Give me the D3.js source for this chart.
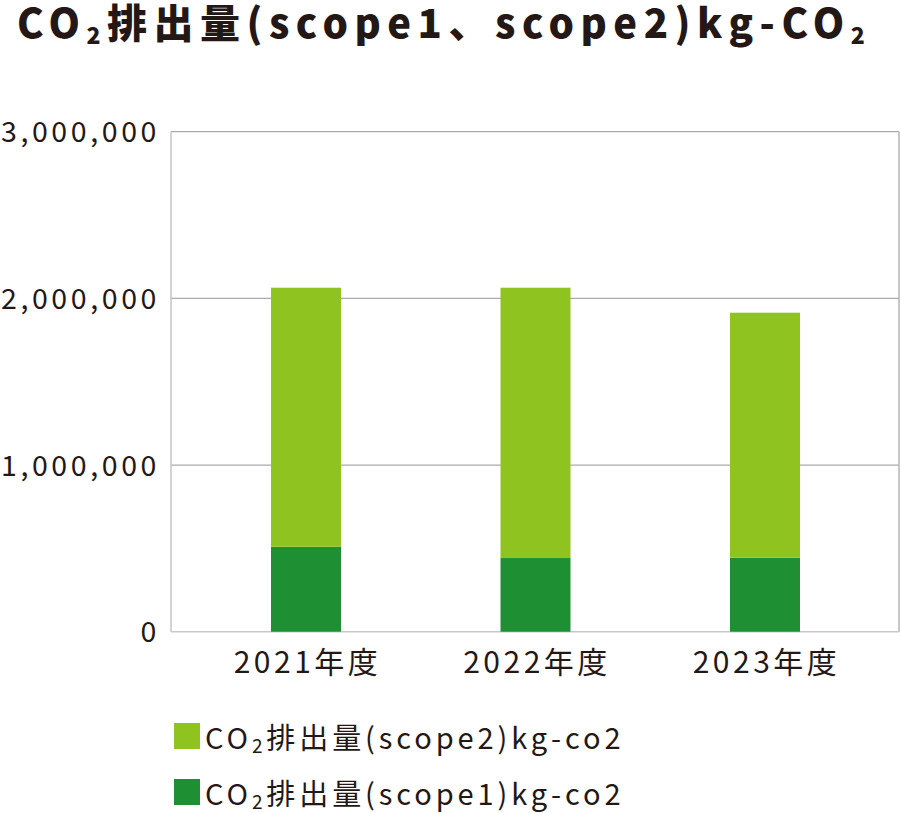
<!DOCTYPE html>
<html><head><meta charset="utf-8">
<script src="https://cdn.jsdelivr.net/npm/d3@7"></script>
<style>
body{margin:0;background:#fff;}
text{font-family:"Noto Sans CJK JP","Noto Sans",sans-serif;fill:#231815;}
</style></head>
<body>
<svg id="c" width="901" height="813"></svg>
<script>
const categories = ["2021年度","2022年度","2023年度"];
const scope1 = [510000, 442000, 444000];
const scope2 = [1554000, 1622000, 1470000];
const yTicks = [0, 1000000, 2000000, 3000000];
const seriesNames = ["CO₂排出量(scope2)kg-co2","CO₂排出量(scope1)kg-co2"];
const titleText = "CO₂排出量(scope1、scope2)kg-CO₂";
const colors = {scope2:"#8fc31f", scope1:"#1f8f33"};

const svg = d3.select("#c");
const pLeft=171, pRight=899, pTop=131.7, pBottom=631.7;

const y = d3.scaleLinear().domain([0,3000000]).range([pBottom, pTop]);
const x = d3.scalePoint().domain(categories).range([306, 765]);
const bw = 70;

// gridlines
svg.append("g").selectAll("line").data(yTicks.filter(d=>d>0)).join("line")
  .attr("x1",pLeft).attr("x2",pRight).attr("y1",d=>y(d)).attr("y2",d=>y(d))
  .attr("stroke","#aaaaaa").attr("stroke-width",1.2);
// frame
svg.append("line").attr("x1",pLeft).attr("x2",pLeft).attr("y1",pTop).attr("y2",pBottom).attr("stroke","#c4c4c4").attr("stroke-width",1.5);
svg.append("line").attr("x1",pRight).attr("x2",pRight).attr("y1",pTop).attr("y2",pBottom).attr("stroke","#b4b4b4").attr("stroke-width",1.5);
svg.append("line").attr("x1",pLeft).attr("x2",pRight).attr("y1",pBottom).attr("y2",pBottom).attr("stroke","#c8c8c8").attr("stroke-width",1.5);

// stack
const data = categories.map((c,i)=>({cat:c, scope1:scope1[i], scope2:scope2[i]}));
const stack = d3.stack().keys(["scope1","scope2"])(data);
svg.append("g").selectAll("g").data(stack).join("g").attr("fill",d=>colors[d.key])
  .selectAll("rect").data(d=>d).join("rect")
  .attr("x",d=>x(d.data.cat)-bw/2).attr("width",bw)
  .attr("y",d=>y(d[1])).attr("height",d=>y(d[0])-y(d[1]));

// y axis labels
const fmt = d3.format(",");
svg.append("g").selectAll("text").data(yTicks).join("text")
  .attr("x",160).attr("y",d=>y(d)+10.5)
  .attr("text-anchor","end").style("font-size","28.5px").style("letter-spacing","3.6px")
  .text(d=>fmt(d));

// x labels
svg.append("g").selectAll("text").data(categories).join("text")
  .attr("x",d=>x(d)+1.5).attr("y",673)
  .attr("text-anchor","middle").style("font-size","30px").style("letter-spacing","3.5px")
  .text(d=>d);

// text with subscript 2 drawn as sequential text pieces
function subText(g, str, x0, y0, size, subSize, spacing, weight, dy){
  const parts = str.split("₂");
  let cx = x0;
  parts.forEach((p,i)=>{
    if(p.length){
      const el = g.append("text").attr("x",cx).attr("y",y0).style("font-size",size+"px")
        .style("font-weight",weight).style("letter-spacing",spacing+"px").text(p);
      cx += el.node().getComputedTextLength();
    }
    if(i<parts.length-1){
      const s = g.append("text").attr("x",cx).attr("y",y0+dy).style("font-size",subSize+"px")
        .style("font-weight",weight).style("letter-spacing",spacing+"px").text("2");
      cx += s.node().getComputedTextLength();
    }
  });
}

// title
subText(svg.append("g"), titleText, 17, 38, 40, 23, 6.5, 900, 6);

// legend
const lg = svg.append("g");
const legendItems = [{key:"scope2", y:723},{key:"scope1", y:779}];
legendItems.forEach((it,i)=>{
  lg.append("rect").attr("x",174).attr("y",it.y).attr("width",26).attr("height",26).attr("fill",colors[it.key]);
  subText(lg, seriesNames[i], 205, it.y+26, 29, 19, 3.9, 400, 4);
});
</script>
</body></html>
